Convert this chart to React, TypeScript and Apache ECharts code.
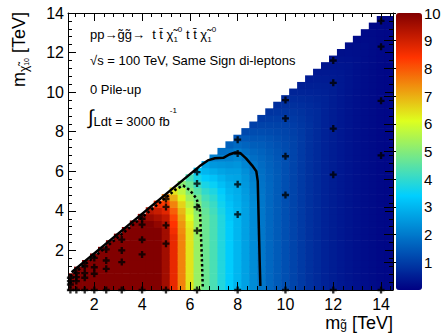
import { useEffect, useRef } from "react";
import * as echarts from "echarts";

// ---- data ----
// histogram bins: gluino-mass columns centred every 1/3 TeV from 1 TeV, neutralino rows every 1/3 TeV from 0
const BIN = 1 / 3;
const FIRST_MG = 1;
const MAX_ROWS = 42;

// value in the lower part of each column (x = 1.00, 1.33, ... 14.33 TeV)
const BASE_VALUES = [
  10, 10, 10, 10, 10, 10, 10, 10, 10, 10, 10, 10, 9.6, 8.7, 7.5, 6.4, 5.25, 4.7, 4.3, 3.8,
  3.35, 3.0, 2.65, 2.3, 1.95, 1.7, 1.5, 1.3, 1.12, 0.95, 0.8, 0.68, 0.57, 0.48, 0.4, 0.33,
  0.27, 0.22, 0.18, 0.14, 0.12,
];

// values of the cells nearest the diagonal, top cell first
const TOP_VALUES: number[][] = [
  [], [], [], [], [], [], [], [], [],
  [9.8],
  [9.3, 9.7],
  [8.6, 9.1, 9.5, 9.8],
  [7.6, 8.3, 8.8, 9.2, 9.4],
  [6.4, 7.0, 7.5, 7.9, 8.2, 8.4, 8.55],
  [5.1, 5.7, 6.2, 6.6, 6.9, 7.1, 7.3, 7.4],
  [4.3, 4.7, 5.0, 5.3, 5.6, 5.9, 6.1, 6.3],
  [3.3, 3.7, 4.1, 4.45, 4.8, 5.0, 5.1, 5.2],
  [2.7, 3.0, 3.35, 3.7, 4.0, 4.25, 4.45, 4.6],
  [2.1, 2.5, 2.85, 3.2, 3.5, 3.75, 3.95, 4.1, 4.2],
  [1.85, 2.15, 2.45, 2.7, 2.95, 3.15, 3.35, 3.5, 3.6, 3.7],
  [1.6, 1.9, 2.15, 2.4, 2.6, 2.75, 2.9, 3.0, 3.1, 3.2, 3.25, 3.3],
  [1.4, 1.75, 2.05, 2.25, 2.45, 2.6, 2.7, 2.8, 2.85, 2.9, 2.95],
  [1.2, 1.45, 1.65, 1.85, 2.05, 2.2, 2.35, 2.45, 2.5, 2.55, 2.6],
  [1.05, 1.25, 1.4, 1.55, 1.7, 1.82, 1.95, 2.05, 2.12, 2.18, 2.22, 2.26],
  [0.95, 1.1, 1.25, 1.4, 1.52, 1.62, 1.7, 1.77, 1.83, 1.87, 1.9, 1.93],
  [0.85, 0.98, 1.1, 1.22, 1.33, 1.42, 1.5, 1.56, 1.6, 1.64, 1.67],
  [0.75, 0.87, 0.98, 1.08, 1.17, 1.25, 1.32, 1.38, 1.42, 1.45, 1.48],
  [0.68, 0.78, 0.88, 0.97, 1.05, 1.12, 1.17, 1.22, 1.25, 1.28],
  [0.6, 0.7, 0.78, 0.86, 0.93, 0.99, 1.04, 1.08, 1.1],
  [0.52, 0.6, 0.68, 0.75, 0.81, 0.86, 0.9, 0.93],
  [0.45, 0.52, 0.59, 0.65, 0.7, 0.74, 0.77],
  [0.4, 0.46, 0.52, 0.57, 0.61, 0.64],
  [0.35, 0.4, 0.45, 0.5, 0.54],
  [0.3, 0.35, 0.4, 0.44],
  [0.26, 0.31, 0.35, 0.38],
  [0.22, 0.27, 0.3],
  [0.19, 0.23, 0.25],
  [0.16, 0.19],
  [0.14, 0.16],
  [0.12],
  [],
];

// signal grid points [m_gluino, m_neutralino]
const SIGNAL_POINTS: [number, number][] = [
  [1, 0], [1, 0.28], [1, 0.45], [1, 0.62],
  [1.25, 0], [1.25, 0.45], [1.25, 0.65], [1.25, 0.85],
  [1.6, 0], [1.6, 0.62], [1.6, 0.85], [1.6, 1.2],
  [2, 0], [2, 0.82], [2, 1.15], [2, 1.62],
  [2.5, 0], [2.5, 1.07], [2.5, 1.49], [2.5, 2.05],
  [3.15, 0], [3.15, 1.41], [3.15, 2.0], [3.15, 2.55],
  [4, 0], [4, 1.8], [4, 2.54], [4, 3.3], [4, 3.6],
  [5, 0], [5, 2.34], [5, 3.27], [5, 4.2], [5, 4.6],
  [6.3, 0], [6.3, 3.0], [6.3, 4.19], [6.3, 5.38], [6.3, 5.96],
  [8, 0], [8, 3.82], [8, 5.34], [8, 6.9], [8, 7.6],
  [10, 0], [10, 4.8], [10, 6.76], [10, 8.67], [10, 9.6],
  [12, 0], [12, 5.83], [12, 8.16], [12, 10.47], [12, 11.6],
  [14, 0], [14, 6.8], [14, 9.56], [14, 12.3], [14, 13.6],
];

// solid contour (level 2) and dotted contour (level 5)
const CONTOUR_SOLID: [number, number][] = [
  [1.05, 0.9], [6.4, 6.25], [6.75, 6.55], [7.05, 6.66], [7.4, 6.68], [7.65, 6.85],
  [7.9, 6.95], [8.1, 6.93], [8.35, 6.65], [8.6, 6.3], [8.78, 6.0], [8.84, 5.5],
  [8.86, 4.5], [8.88, 3.5], [8.9, 2.5], [8.92, 1.5], [8.95, 0.2],
];
const CONTOUR_DOTTED: [number, number][] = [
  [1.0, 0.68], [5.45, 5.12], [5.72, 5.28], [6.0, 5.04], [6.28, 4.62], [6.42, 4.03],
  [6.45, 3.18], [6.49, 2.0], [6.54, 0.14],
];

// ---- palette (ROOT-style gradient) ----
const PAL_STOPS = [0, 0.34, 0.61, 0.84, 1.0];
const PAL_R = [0, 0, 0.87, 1.0, 0.51];
const PAL_G = [0, 0.81, 1.0, 0.2, 0];
const PAL_B = [0.51, 1.0, 0.12, 0, 0];

function palColor(t: number): string {
  let k = 0;
  while (k < PAL_STOPS.length - 2 && t > PAL_STOPS[k + 1]) k++;
  const f = (t - PAL_STOPS[k]) / (PAL_STOPS[k + 1] - PAL_STOPS[k]);
  const c = (a: number[]) => Math.round(255 * (a[k] + (a[k + 1] - a[k]) * f));
  return `rgb(${c(PAL_R)},${c(PAL_G)},${c(PAL_B)})`;
}
const PALETTE: string[] = [];
for (let s = 0; s <= 100; s++) PALETTE.push(palColor(s / 100));

const FONT = '"Liberation Sans", Arial, Helvetica, sans-serif';

function buildHeat(): number[][] {
  const out: number[][] = [];
  BASE_VALUES.forEach((base, i) => {
    const xc = FIRST_MG + i * BIN;
    const top = TOP_VALUES[i];
    const nRows = Math.min(i + 3, MAX_ROWS); // kinematic limit m_chi < m_gluino
    for (let j = 0; j < nRows; j++) {
      const fromTop = nRows - 1 - j;
      const v = fromTop < top.length ? top[fromTop] : base;
      out.push([xc, j * BIN, v]);
    }
  });
  return out;
}

const PLUS = "path://M2,0H4V2H6V4H4V6H2V4H0V2H2Z";

export default function App() {
  const ref = useRef<HTMLDivElement>(null);
  useEffect(() => {
    const chart = echarts.init(ref.current!, null, { renderer: "svg" });
    const half = BIN / 2;
    const tickAxis = {
      axisLine: { show: true, onZero: false, lineStyle: { color: "#000", width: 1 } },
      axisTick: { show: true, inside: true, length: 8, lineStyle: { color: "#000", width: 1 } },
      minorTick: { show: true, splitNumber: 5, length: 4, lineStyle: { color: "#000", width: 1 } },
      splitLine: { show: false },
      z: 10,
    };
    const labelStyle = { color: "#000", fontSize: 16, lineHeight: 16, fontFamily: FONT };
    const option: any = {
      animation: false,
      backgroundColor: "#fff",
      grid: [
        { left: 68, top: 13, width: 325, height: 277, containLabel: false, outerBoundsMode: "none" },
        { left: 396, top: 13, width: 26, height: 277, containLabel: false, outerBoundsMode: "none" },
      ],
      xAxis: [
        {
          gridIndex: 0, type: "value", min: 0.9, max: 14.5, splitNumber: 7, position: "bottom",
          ...tickAxis,
          axisLabel: { ...labelStyle, margin: 6, showMinLabel: false, showMaxLabel: false },
        },
        {
          gridIndex: 0, type: "value", min: 0.9, max: 14.5, splitNumber: 7, position: "top",
          ...tickAxis, axisLabel: { show: false },
        },
        { gridIndex: 1, type: "value", min: 0, max: 1, show: false },
      ],
      yAxis: [
        {
          gridIndex: 0, type: "value", min: 0, max: 14, splitNumber: 7, position: "left",
          ...tickAxis,
          axisLabel: { ...labelStyle, margin: 4, showMinLabel: false },
        },
        {
          gridIndex: 0, type: "value", min: 0, max: 14, splitNumber: 7, position: "right",
          ...tickAxis, axisLabel: { show: false },
        },
        {
          gridIndex: 1, type: "value", min: 0, max: 10, splitNumber: 10, position: "right",
          axisLine: { show: false },
          axisTick: { show: true, inside: true, length: 12, lineStyle: { color: "#000", width: 1 } },
          splitLine: { show: false },
          axisLabel: { ...labelStyle, fontSize: 15, margin: 2, showMinLabel: false },
          z: 10,
        },
      ],
      visualMap: {
        type: "continuous",
        min: 0,
        max: 10,
        dimension: 2,
        seriesIndex: 0,
        left: 396,
        top: 13,
        itemWidth: 26,
        itemHeight: 277,
        padding: 0,
        calculable: false,
        hoverLink: false,
        showLabel: false,
        inRange: { color: PALETTE },
        z: 2,
      },
      series: [
        {
          type: "custom",
          xAxisIndex: 0,
          yAxisIndex: 0,
          data: buildHeat(),
          z: 1,
          renderItem: (params: any, api: any) => {
            const x = api.value(0);
            const y = api.value(1);
            const p0 = api.coord([x - half, y + half]);
            const p1 = api.coord([x + half, y - half]);
            const rect = {
              x: p0[0] - 0.3,
              y: p0[1] - 0.3,
              width: p1[0] - p0[0] + 0.6,
              height: p1[1] - p0[1] + 0.6,
            };
            const cs = params.coordSys;
            const clipped = echarts.graphic.clipRectByRect(rect, {
              x: cs.x, y: cs.y, width: cs.width, height: cs.height,
            });
            if (!clipped) return null;
            return { type: "rect", shape: clipped, style: { fill: api.visual("color") } };
          },
        },
        {
          type: "line",
          data: CONTOUR_SOLID,
          showSymbol: false,
          symbol: "none",
          lineStyle: { color: "#000", width: 2.5 },
          z: 5,
        },
        {
          type: "line",
          data: CONTOUR_DOTTED,
          showSymbol: false,
          symbol: "none",
          lineStyle: { color: "#000", width: 2.5, type: [2.5, 2.5] },
          z: 5,
        },
        {
          type: "scatter",
          data: SIGNAL_POINTS,
          symbol: PLUS,
          symbolSize: 7,
          itemStyle: { color: "#000" },
          clip: false,
          z: 6,
        },
      ],
      graphic: [
        {
          type: "text", x: 90, y: 34, z: 20,
          style: {
            text: "{a|pp→g\u0303g\u0303→  t t\u0304 \u03c7\u0303}{b|1}{c|0}{a| t t\u0304 \u03c7\u0303}{b|1}{c|0}",
            verticalAlign: "middle", align: "left", fill: "#000",
            rich: {
              a: { fontSize: 13, fontFamily: FONT, lineHeight: 18, fill: "#000", verticalAlign: "middle" },
              b: { fontSize: 8, fontFamily: FONT, lineHeight: 9, fill: "#000", verticalAlign: "bottom" },
              c: { fontSize: 8, fontFamily: FONT, lineHeight: 9, fill: "#000", verticalAlign: "top" },
            },
          },
        },
        {
          type: "text", x: 90, y: 60, z: 20,
          style: {
            text: "√s = 100 TeV, Same Sign di-leptons",
            font: `13px ${FONT}`, fill: "#000", verticalAlign: "middle", align: "left",
          },
        },
        {
          type: "text", x: 90, y: 89, z: 20,
          style: {
            text: "0 Pile-up",
            font: `13px ${FONT}`, fill: "#000", verticalAlign: "middle", align: "left",
          },
        },
        {
          type: "text", x: 88, y: 117, z: 20,
          style: {
            text: "{i|∫}{a|Ldt = 3000 fb}{c|-1}",
            verticalAlign: "middle", align: "left", fill: "#000",
            rich: {
              i: { fontSize: 20, fontFamily: FONT, lineHeight: 22, fill: "#000", verticalAlign: "middle" },
              a: { fontSize: 13, fontFamily: FONT, lineHeight: 15, fill: "#000", verticalAlign: "bottom" },
              c: { fontSize: 8, fontFamily: FONT, lineHeight: 18, fill: "#000", verticalAlign: "top" },
            },
          },
        },
        {
          type: "text", x: 19, y: 12, rotation: Math.PI / 2, z: 20,
          style: {
            text: "{m|m}{s|\u03c7\u0303}{t|1}{u|0}{m| [TeV]}",
            align: "right", verticalAlign: "middle", fill: "#000",
            rich: {
              m: { fontSize: 18, fontFamily: FONT, lineHeight: 22, fill: "#000", verticalAlign: "middle" },
              s: { fontSize: 12, fontFamily: FONT, lineHeight: 12, fill: "#000", verticalAlign: "bottom" },
              t: { fontSize: 7, fontFamily: FONT, lineHeight: 7, fill: "#000", verticalAlign: "bottom" },
              u: { fontSize: 7, fontFamily: FONT, lineHeight: 20, fill: "#000", verticalAlign: "bottom" },
            },
          },
        },
        {
          type: "text", x: 393, y: 323, z: 20,
          style: {
            text: "{m|m}{s|g\u0303}{m| [TeV]}",
            align: "right", verticalAlign: "middle", fill: "#000",
            rich: {
              m: { fontSize: 18, fontFamily: FONT, lineHeight: 16, fill: "#000", verticalAlign: "middle" },
              s: { fontSize: 12, fontFamily: FONT, lineHeight: 12, fill: "#000", verticalAlign: "bottom" },
            },
          },
        },
      ],
    };
    chart.setOption(option);
    return () => chart.dispose();
  }, []);
  return (
    <div
      ref={ref}
      style={{ position: "absolute", left: 0, top: 0, width: 441, height: 334, background: "#fff" }}
    />
  );
}
